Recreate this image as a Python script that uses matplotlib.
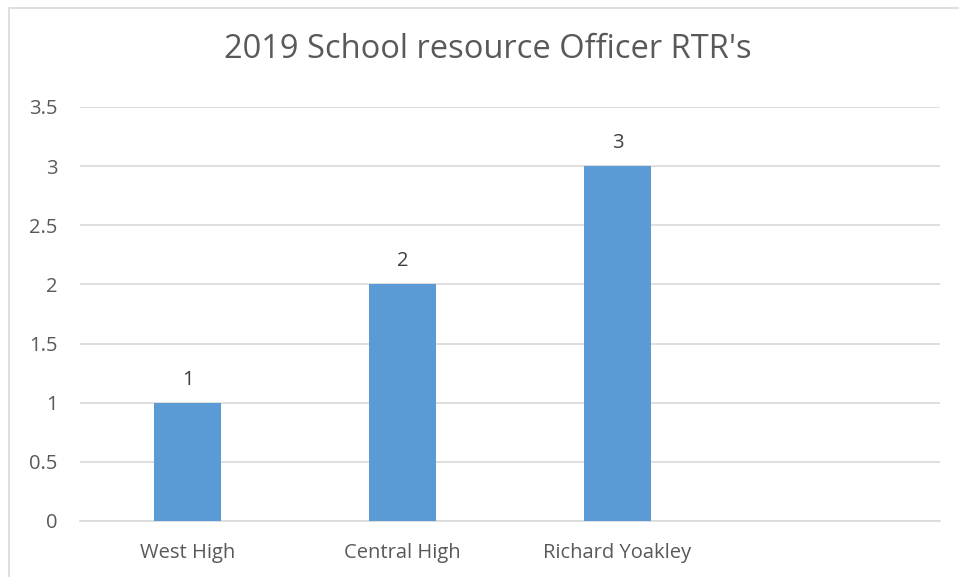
import matplotlib.pyplot as plt
from matplotlib.patches import Rectangle

# data
schools = ['West High', 'Central High', 'Richard Yoakley', '']
rtrs = [1, 2, 3, 0]
yticks = [0, 0.5, 1, 1.5, 2, 2.5, 3, 3.5]

plt.rcParams['font.family'] = ['Open Sans', 'DejaVu Sans']

fig = plt.figure(figsize=(9.59, 5.77), dpi=100)
# chart border (runs off the right and bottom edge)
fig.patches.append(Rectangle((8.5 / 959, -0.1), 1.2, 1 - 7.5 / 577 + 0.1,
                             transform=fig.transFigure, fill=False,
                             edgecolor='#d9d9d9', linewidth=1.2))

ax = fig.add_axes([80 / 959, 1 - 521 / 577, 860 / 959, (521 - 107) / 577])
x = range(len(schools))
bars = ax.bar(x, rtrs, width=0.31, color='#5b9bd5', zorder=3)
for i, v in enumerate(rtrs):
    if schools[i]:
        ax.text(i, v + 0.11, str(v), ha='center', va='bottom', fontsize=14.5, color='#404040')

ax.set_xlim(-0.5, len(schools) - 0.5)
ax.set_ylim(0, 3.5)
ax.set_yticks(yticks)
ax.set_yticklabels(['0', '0.5', '1', '1.5', '2', '2.5', '3', '3.5'])
ax.set_xticks(list(x))
ax.set_xticklabels(schools)
ax.grid(axis='y', color='#d9d9d9', linewidth=1.2, zorder=0)
for s in ['top', 'right', 'left']:
    ax.spines[s].set_visible(False)
ax.spines['bottom'].set_color('#d9d9d9')
ax.spines['bottom'].set_linewidth(1.2)
ax.tick_params(length=0, labelsize=14.5, labelcolor='#595959')
ax.tick_params(axis='y', pad=16)
ax.tick_params(axis='x', pad=16)

fig.text(488 / 959, 1 - 50 / 577, "2019 School resource Officer RTR's",
         ha='center', va='center', fontsize=23.5, color='#595959')

fig.savefig('out.png', dpi=100)
